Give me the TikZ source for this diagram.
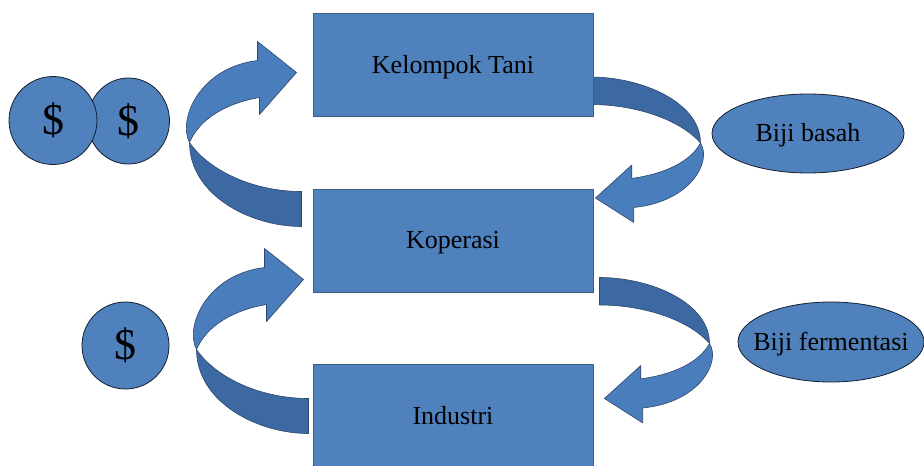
\documentclass[tikz,border=0pt]{standalone}
\usepackage{fontspec}
\setmainfont{Liberation Serif}
\usetikzlibrary{shapes.geometric,calc,backgrounds}

\definecolor{boxblue}{RGB}{79,129,189}
\definecolor{boxline}{RGB}{62,94,138}
\definecolor{ribbonfront}{RGB}{74,125,188}
\definecolor{ribbonback}{RGB}{61,105,163}
\definecolor{ribbonline}{RGB}{44,70,108}
\definecolor{rimline}{RGB}{20,30,45}

% Twisted ribbon arrow, local origin at the top corner of the tail cut.
% Units are pixels, y pointing down.
\newcommand\ribbonarrow{%
  \filldraw[fill=ribbonback,draw=ribbonline,line width=0.6pt,line join=round]
    (-112,-49) .. controls (-112,3) and (-52,35) .. (0,35)
    -- (0,0) .. controls (-47,0) and (-92,-20) .. (-112,-49) -- cycle;
  \filldraw[fill=ribbonfront,draw=ribbonline,line width=0.6pt,line join=round]
    (-112,-49) .. controls (-124,-72) and (-102,-124) .. (-44,-131)
    -- (-44,-150) -- (-5,-119) -- (-42,-77) -- (-42,-94)
    .. controls (-77,-88) and (-102,-72) .. (-112,-49) -- cycle;
}

\tikzset{
  stagebox/.style={rectangle, fill=boxblue, draw=boxline, line width=1pt,
    minimum width=280pt, inner sep=0pt, text height=16pt, text depth=0pt,
    font=\fontsize{26}{30}\selectfont},
  coin/.style={ellipse, fill=boxblue, draw=rimline, line width=0.8pt,
    inner sep=0pt, font=\fontsize{44}{48}\selectfont},
  goods/.style={ellipse, fill=boxblue, draw=rimline, line width=0.8pt,
    inner sep=0pt, text height=16pt, text depth=0pt,
    font=\fontsize{26}{30}\selectfont},
}

\begin{document}
\begin{tikzpicture}[x=1pt,y=-1pt]
  \useasboundingbox (0,0) rectangle (924,466);
  \clip (0,0) rectangle (924,466);

  % stages of the chain
  \node[stagebox, minimum height=103pt] (kt)  at (453,65)    {Kelompok Tani};
  \node[stagebox, minimum height=103pt] (kop) at (453,240.5) {Koperasi};
  \node[stagebox, minimum height=104pt] (ind) at (453,416)   {Industri};

  % money
  \node[coin, minimum width=82pt, minimum height=86pt] (coinb) at (128.5,121) {\$};
  \node[coin, minimum width=88pt, minimum height=88pt] (coina) at (53,120.5) {\$};
  \node[coin, minimum width=87pt, minimum height=87pt] (coinc) at (125.5,345.5) {\$};

  % goods (zero-width text so the ellipse keeps its own size)
  \node[goods, minimum width=192pt, minimum height=79pt] (basah) at (808,133.5) {\makebox[0pt]{Biji basah}};
  \node[goods, minimum width=186pt, minimum height=80pt] (ferm)  at (831,342)   {\makebox[0pt]{Biji fermentasi}};

  % flows between the stages
  \begin{scope}[on background layer]
    \begin{scope}[shift={($(kop.north west)+(-11,3)$)}]
      \ribbonarrow
    \end{scope}
    \begin{scope}[shift={($(ind.north west)+(-4,35)$)}]
      \ribbonarrow
    \end{scope}
    \begin{scope}[shift={($(kt.south east)+(-3,-12.5)$)}, xscale=-0.982, yscale=-0.786]
      \ribbonarrow
    \end{scope}
    \begin{scope}[shift={($(kop.south east)+(6,12.5)$)}, xscale=-0.982, yscale=-0.786]
      \ribbonarrow
    \end{scope}
  \end{scope}
\end{tikzpicture}
\end{document}
